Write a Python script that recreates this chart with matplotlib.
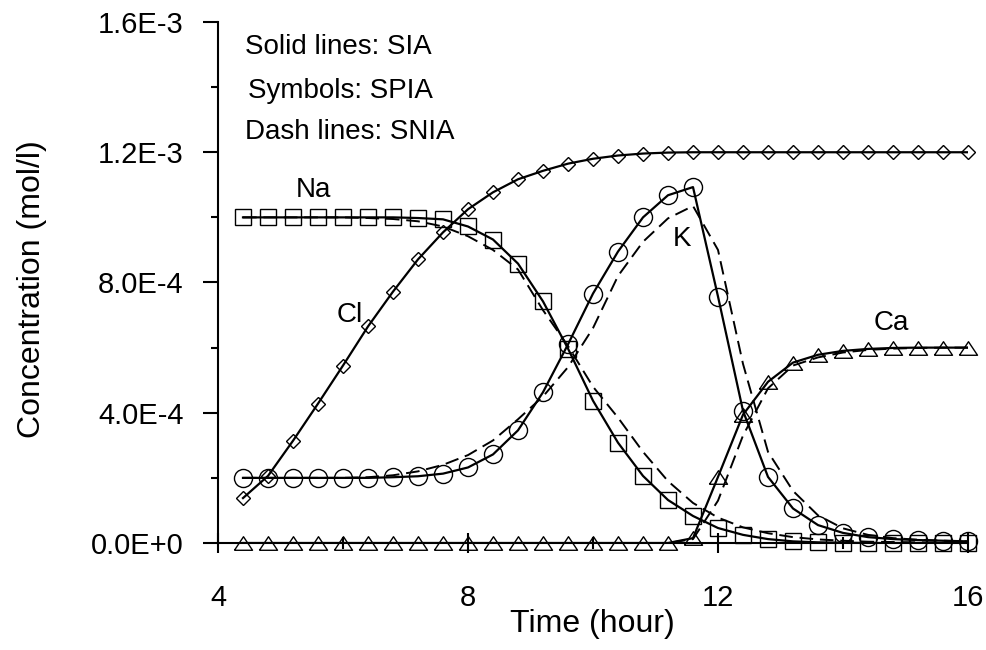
import numpy as np
import matplotlib
matplotlib.use("Agg")
import matplotlib.pyplot as plt
from matplotlib.ticker import MultipleLocator, FuncFormatter

plt.rcParams['font.family'] = ['Liberation Sans', 'DejaVu Sans']

# concentrations below are in units of 1e-4 mol/l
SCALE = 1e-4

time = [4.4, 4.8, 5.2, 5.6, 6.0, 6.4, 6.8, 7.2, 7.6, 8.0,
        8.4, 8.8, 9.2, 9.6, 10.0, 10.4, 10.8, 11.2, 11.6, 12.0,
        12.4, 12.8, 13.2, 13.6, 14.0, 14.4, 14.8, 15.2, 15.6, 16.0]

# SIA (solid) and SPIA (symbols) coincide, SNIA is the dashed run
cl_sia = [1.38, 2.06, 3.14, 4.28, 5.45, 6.65, 7.72, 8.71, 9.54, 10.25,
          10.77, 11.17, 11.43, 11.65, 11.80, 11.90, 11.96, 11.99, 12.0, 12.0,
          12.0, 12.0, 12.0, 12.0, 12.0, 12.0, 12.0, 12.0, 12.0, 12.0]
na_sia = [10.0, 10.0, 10.0, 10.0, 10.0, 10.0, 10.0, 9.98, 9.94, 9.72,
          9.32, 8.58, 7.42, 5.97, 4.37, 3.08, 2.06, 1.32, 0.83, 0.46,
          0.25, 0.12, 0.05, 0.02, 0.01, 0.0, 0.0, 0.0, 0.0, 0.0]
k_sia = [2.0, 2.0, 2.0, 2.0, 2.0, 2.0, 2.02, 2.05, 2.13, 2.32,
         2.72, 3.46, 4.63, 6.10, 7.66, 8.95, 10.0, 10.68, 10.93, 7.57,
         4.06, 2.03, 1.06, 0.55, 0.31, 0.18, 0.12, 0.09, 0.07, 0.05]
ca_sia = [0.0, 0.0, 0.0, 0.0, 0.0, 0.0, 0.0, 0.0, 0.0, 0.0,
          0.0, 0.0, 0.0, 0.0, 0.0, 0.0, 0.0, 0.0, 0.15, 2.03,
          3.94, 4.95, 5.54, 5.78, 5.90, 5.96, 5.99, 6.0, 6.0, 6.0]

na_snia = [10.0, 10.0, 10.0, 10.0, 10.0, 9.98, 9.95, 9.88, 9.72, 9.42,
           9.0, 8.4, 7.15, 6.05, 4.8, 3.85, 2.8, 1.9, 1.23, 0.78,
           0.48, 0.3, 0.18, 0.11, 0.07, 0.04, 0.03, 0.02, 0.01, 0.01]
k_snia = [2.0, 2.0, 2.0, 2.0, 2.0, 2.02, 2.08, 2.2, 2.4, 2.7,
          3.15, 3.8, 4.5, 5.4, 6.6, 8.2, 9.25, 9.97, 10.35, 9.0,
          5.5, 2.8, 1.6, 0.85, 0.45, 0.25, 0.15, 0.1, 0.07, 0.05]
ca_snia = [0.0, 0.0, 0.0, 0.0, 0.0, 0.0, 0.0, 0.0, 0.0, 0.0,
           0.0, 0.0, 0.0, 0.0, 0.0, 0.0, 0.0, 0.0, 0.12, 1.3,
           3.3, 4.75, 5.45, 5.7, 5.85, 5.93, 5.97, 5.99, 6.0, 6.0]

notes = ["Solid lines: SIA", "Symbols: SPIA", "Dash lines: SNIA"]
species = ["Na", "Cl", "K", "Ca"]


def sci_label(v, pos):
    """Tick labels like 4.0E-4 (single digit exponent)."""
    if abs(v) < 1e-12:
        return "0.0E+0"
    exp = int(np.floor(np.log10(abs(v)) + 1e-9))
    return f"{v / 10**exp:.1f}E{exp:+d}"


def scaled(vals):
    return np.array(vals) * SCALE


fig = plt.figure(figsize=(9.86, 6.5), dpi=100)
ax = fig.add_axes([218 / 986, 107 / 650, 750 / 986, 521 / 650])

# flat open triangle like the original
tri = [(-1, -0.75), (1, -0.75), (0, 0.75), (-1, -0.75)]
series = [
    (cl_sia, None, 'D', 7.5),
    (na_sia, na_snia, 's', 11.3),
    (k_sia, k_snia, 'o', 13),
    (ca_sia, ca_snia, tri, 13),
]
for sia, snia, marker, ms in series:
    ax.plot(time, scaled(sia), color='black', lw=1.6)
    if snia is not None:
        ax.plot(time, scaled(snia), color='black', lw=1.4, ls=(0, (7, 3.5)))
    ax.plot(time, scaled(sia), ls='none', marker=marker, ms=ms,
            mfc='none', mec='black', mew=1.0, clip_on=False)

ax.set_xlim(4, 16)
ax.set_ylim(0, 1.6e-3)
ax.spines['top'].set_visible(False)
ax.spines['right'].set_visible(False)
for s in ['left', 'bottom']:
    ax.spines[s].set_linewidth(1.5)

ax.xaxis.set_major_locator(MultipleLocator(4))
ax.xaxis.set_minor_locator(MultipleLocator(2))
ax.yaxis.set_major_locator(MultipleLocator(4e-4))
ax.yaxis.set_minor_locator(MultipleLocator(2e-4))
ax.yaxis.set_major_formatter(FuncFormatter(sci_label))

ax.tick_params(axis='y', which='major', direction='out', length=10.8,
               width=1.5, pad=14, labelsize=21)
ax.tick_params(axis='y', which='minor', direction='out', length=5, width=1.5)
ax.tick_params(axis='x', which='major', direction='inout', length=15,
               width=1.5, pad=22, labelsize=21)
ax.tick_params(axis='x', which='minor', direction='inout', length=9,
               width=1.5)

ax.set_xlabel("Time (hour)", fontsize=23)
ax.xaxis.set_label_coords(0.499, -0.127)
ax.set_ylabel("Concentration (mol/l)", fontsize=23)
ax.yaxis.set_label_coords(-0.228, 0.487)

# annotations
ax.text(4.43, 1.523e-3, notes[0], fontsize=20, va='center')
ax.text(4.48, 1.388e-3, notes[1], fontsize=20, va='center')
ax.text(4.43, 1.261e-3, notes[2], fontsize=20, va='center')

label_pos = [(5.52, 10.85), (6.11, 7.0), (11.42, 9.35), (14.78, 6.75)]
for name, (x, y) in zip(species, label_pos):
    ax.text(x, y * SCALE, name, fontsize=20, ha='center', va='center')

fig.savefig("out.png", dpi=100)
